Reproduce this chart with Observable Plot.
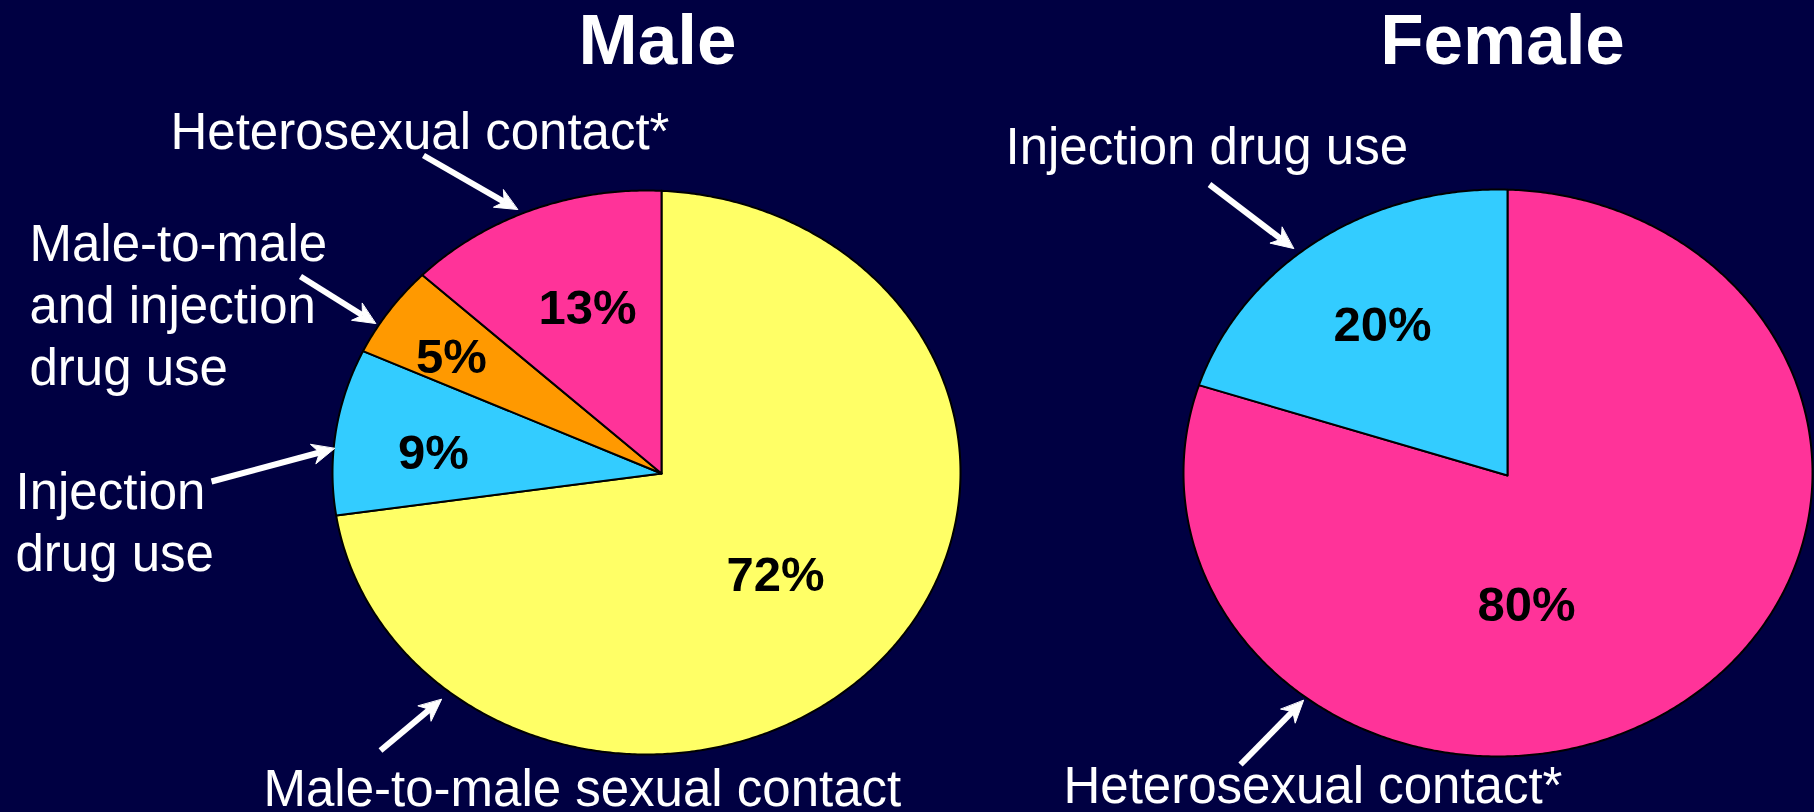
<!DOCTYPE html>
<html><head><meta charset="utf-8">
<script src="https://cdn.jsdelivr.net/npm/d3@7"></script>
<script src="https://cdn.jsdelivr.net/npm/@observablehq/plot@0.6"></script>
<style>
html,body{margin:0;padding:0;background:#000042;overflow:hidden}
#chart svg{display:block}
</style></head><body><div id="chart"></div>
<script>
// ---- data ----
const panelTitles = ["Male", "Female"];
const maleCategories = ["Male-to-male sexual contact", "Injection drug use", "Male-to-male and injection drug use", "Heterosexual contact*"];
const malePercents = [72, 9, 5, 13];
const femaleCategories = ["Heterosexual contact*", "Injection drug use"];
const femalePercents = [80, 20];
const allCategories = ["Male-to-male sexual contact", "Injection drug use", "Male-to-male and injection drug use", "Heterosexual contact*"];
const categoryColors = ["#FFFF66", "#33CCFF", "#FF9900", "#FF3399"];

// ---- layout (positions only) ----
const W = 1814, H = 812;
const pieGeom = {
  Male:   {cx: 646, cy: 472, rx: 314, ry: 282, vx: 661, vy: 473, titleX: 657},
  Female: {cx: 1497.5, cy: 472.5, rx: 314.5, ry: 283.5, vx: 1507, vy: 475, titleX: 1502}
};
const titleBaseline = 63;
// category label anchors: x = left start, y = baseline of first line
const catLabelLayout = [
  {pie: "Male", category: "Heterosexual contact*", lines: ["Heterosexual contact*"], x: 170, y: 148},
  {pie: "Male", category: "Male-to-male and injection drug use", lines: ["Male-to-male", "and injection", "drug use"], x: 29, y: 260},
  {pie: "Male", category: "Injection drug use", lines: ["Injection", "drug use"], x: 15, y: 508},
  {pie: "Male", category: "Male-to-male sexual contact", lines: ["Male-to-male sexual contact"], x: 263, y: 805},
  {pie: "Female", category: "Injection drug use", lines: ["Injection drug use"], x: 1005, y: 163},
  {pie: "Female", category: "Heterosexual contact*", lines: ["Heterosexual contact*"], x: 1063, y: 802}
];
const lineGap = 62;
// percent label anchors (center, baseline)
const pctLayout = [
  {pie: "Male", category: "Heterosexual contact*", x: 587, y: 323},
  {pie: "Male", category: "Male-to-male and injection drug use", x: 451, y: 372},
  {pie: "Male", category: "Injection drug use", x: 433, y: 468},
  {pie: "Male", category: "Male-to-male sexual contact", x: 775, y: 590},
  {pie: "Female", category: "Injection drug use", x: 1382, y: 340},
  {pie: "Female", category: "Heterosexual contact*", x: 1526, y: 620}
];
const arrowLayout = [
  {x1: 423, y1: 155, x2: 517, y2: 209},
  {x1: 300, y1: 276, x2: 375, y2: 323},
  {x1: 211, y1: 481, x2: 334, y2: 448},
  {x1: 380, y1: 750, x2: 441, y2: 699},
  {x1: 1209, y1: 184, x2: 1293, y2: 248},
  {x1: 1240, y1: 764, x2: 1303, y2: 700}
];
const headLen = 22, headHalf = 10, notch = 0.7;

// ---- geometry from values ----
function rim(g, a) {
  const ux = (g.vx - g.cx) / g.rx, uy = (g.vy - g.cy) / g.ry;
  const dx = Math.sin(a), dy = -Math.cos(a);
  const b = ux * dx + uy * dy, c = ux * ux + uy * uy - 1;
  const t = -b + Math.sqrt(b * b - c);
  return [g.cx + g.rx * (ux + t * dx), g.cy + g.ry * (uy + t * dy)];
}
function slicePoints(pie, cats, vals) {
  const g = pieGeom[pie];
  const total = d3.sum(vals);
  let acc = 0;
  const pts = [];
  cats.forEach((c, i) => {
    const a0 = acc / total * 2 * Math.PI;
    acc += vals[i];
    const a1 = acc / total * 2 * Math.PI;
    const id = pie + "|" + c;
    pts.push({id, category: c, x: g.vx, y: g.vy});
    const n = Math.max(2, Math.ceil((a1 - a0) / (Math.PI / 360)));
    for (let k = 0; k <= n; k++) {
      const p = rim(g, a0 + (a1 - a0) * k / n);
      pts.push({id, category: c, x: p[0], y: p[1]});
    }
  });
  return pts;
}
const slices = [
  ...slicePoints("Male", maleCategories, malePercents),
  ...slicePoints("Female", femaleCategories, femalePercents)
];

const valueOf = (pie, cat) => pie === "Male"
  ? malePercents[maleCategories.indexOf(cat)]
  : femalePercents[femaleCategories.indexOf(cat)];

const pctLabels = pctLayout.map(d => ({...d, text: valueOf(d.pie, d.category) + "%"}));
const catLabels = catLabelLayout.flatMap(d => d.lines.map((t, i) => ({x: d.x, y: d.y + i * lineGap, text: t})));
const titles = panelTitles.map(t => ({text: t, x: pieGeom[t].titleX, y: titleBaseline}));

// arrows: shaft + filled notched head
const shafts = [], heads = [];
arrowLayout.forEach((a, i) => {
  const dx = a.x2 - a.x1, dy = a.y2 - a.y1, L = Math.hypot(dx, dy);
  const ux = dx / L, uy = dy / L, px = -uy, py = ux;
  const bx = a.x2 - ux * headLen, by = a.y2 - uy * headLen;
  const nx = a.x2 - ux * headLen * notch, ny = a.y2 - uy * headLen * notch;
  shafts.push({x1: a.x1, y1: a.y1, x2: nx, y2: ny});
  heads.push({id: i, x: a.x2, y: a.y2});
  heads.push({id: i, x: bx + px * headHalf, y: by + py * headHalf});
  heads.push({id: i, x: nx, y: ny});
  heads.push({id: i, x: bx - px * headHalf, y: by - py * headHalf});
});

const font = "Liberation Sans, Arial, Helvetica, sans-serif";

const chart = Plot.plot({
  width: W, height: H, margin: 0,
  x: {domain: [0, W], range: [0, W], axis: null},
  y: {domain: [0, H], range: [0, H], axis: null},
  color: {domain: allCategories, range: categoryColors},
  style: {background: "#000042", fontFamily: font},
  marks: [
    Plot.line(slices, {x: "x", y: "y", z: "id", fill: "category", stroke: "black", strokeWidth: 2, curve: "linear-closed", strokeLinejoin: "round"}),
    Plot.text(titles, {x: "x", y: "y", text: "text", fill: "white", fontSize: 71, fontWeight: "bold", textAnchor: "middle", lineAnchor: "bottom", fontFamily: font}),
    Plot.text(catLabels, {x: "x", y: "y", text: "text", fill: "white", fontSize: 51, textAnchor: "start", lineAnchor: "bottom", fontFamily: font}),
    Plot.text(pctLabels, {x: "x", y: "y", text: "text", fill: "black", fontSize: 49, fontWeight: "bold", textAnchor: "middle", lineAnchor: "bottom", fontFamily: font}),
    Plot.link(shafts, {x1: "x1", y1: "y1", x2: "x2", y2: "y2", stroke: "white", strokeWidth: 6, strokeLinecap: "butt"}),
    Plot.line(heads, {x: "x", y: "y", z: "id", fill: "white", stroke: "white", strokeWidth: 1, curve: "linear-closed"})
  ]
});
document.getElementById("chart").appendChild(chart);
</script></body></html>
